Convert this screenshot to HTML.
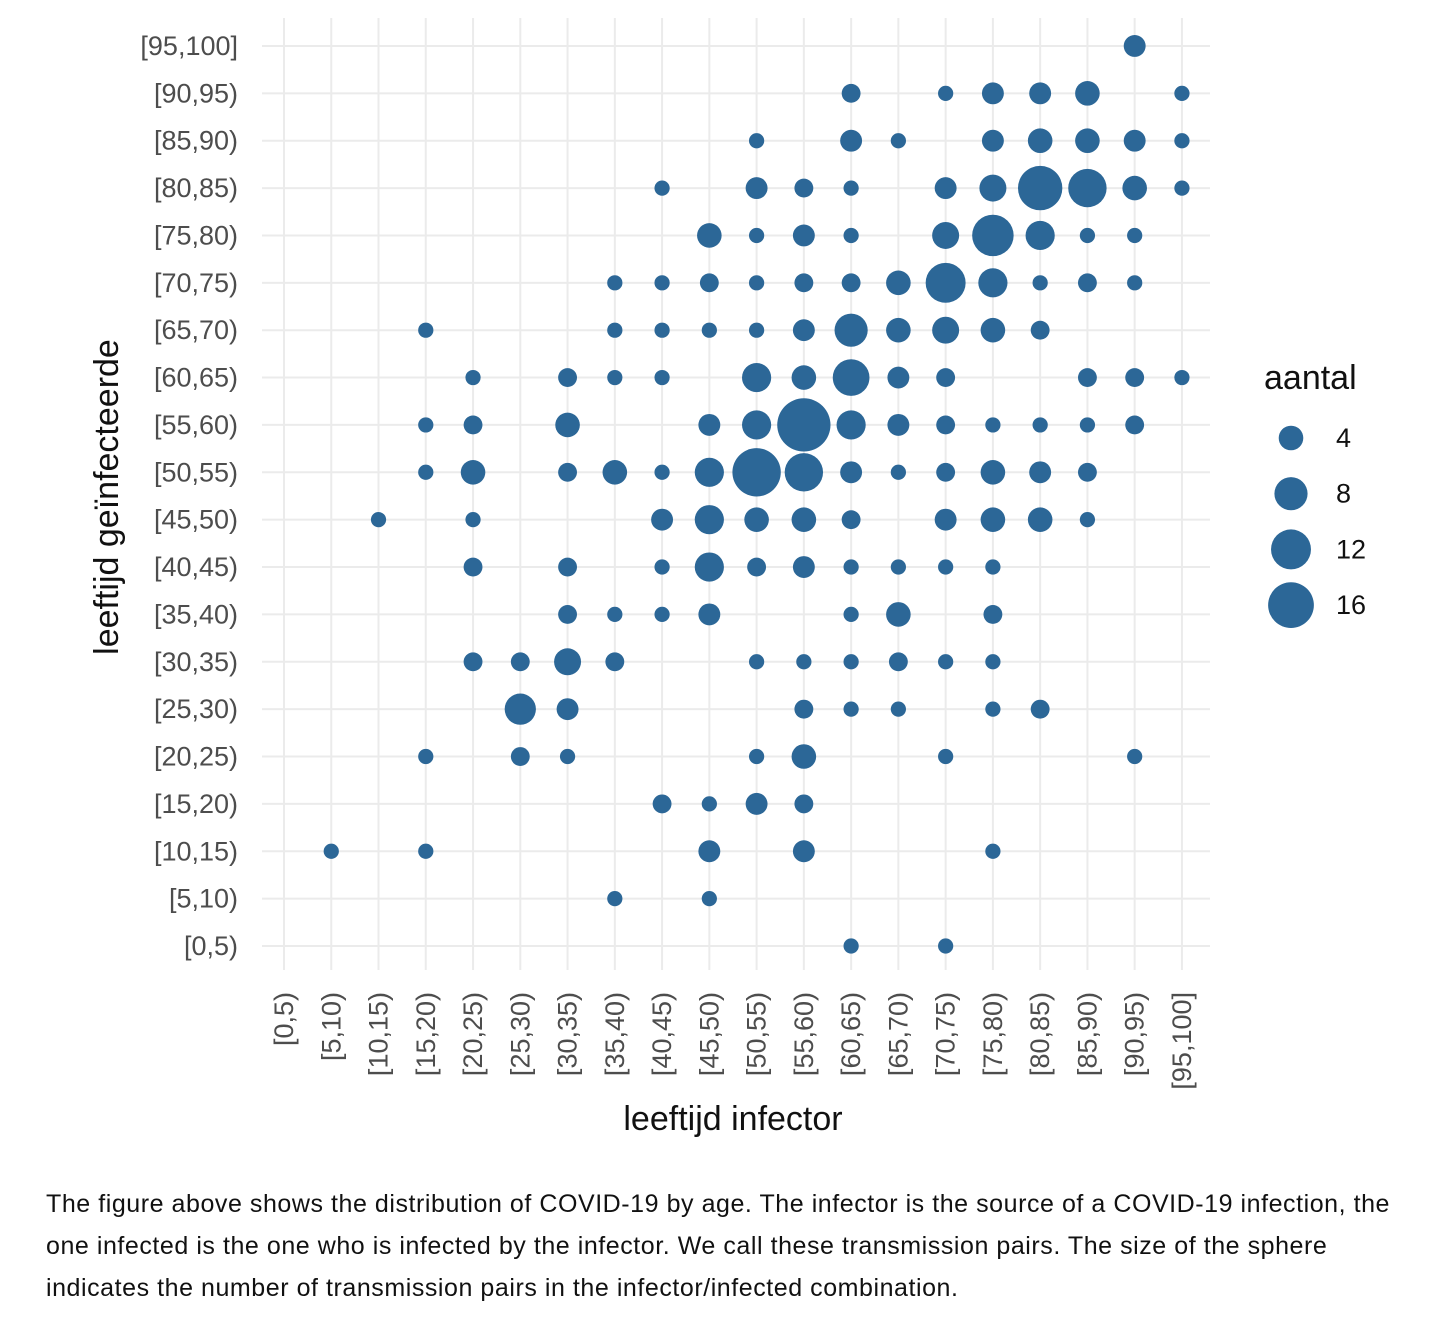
<!DOCTYPE html>
<html><head><meta charset="utf-8"><style>
html,body{margin:0;padding:0;background:#fff;width:1444px;height:1328px;overflow:hidden}
svg{position:absolute;left:0;top:0}
.cap{position:absolute;left:46px;top:1183px;font-family:"Liberation Sans",sans-serif;font-size:25px;letter-spacing:0.55px;line-height:42px;color:#111;white-space:nowrap}
</style></head><body>
<svg id="chart" width="1444" height="1170"></svg>
<div class="cap">The figure above shows the distribution of COVID-19 by age. The infector is the source of a COVID-19 infection, the<br>one infected is the one who is infected by the infector. We call these transmission pairs. The size of the sphere<br>indicates the number of transmission pairs in the infector/infected combination.</div>
<script>
const categories=["[0,5)","[5,10)","[10,15)","[15,20)","[20,25)","[25,30)","[30,35)","[35,40)","[40,45)","[45,50)","[50,55)","[55,60)","[60,65)","[65,70)","[70,75)","[75,80)","[80,85)","[85,90)","[90,95)","[95,100]"];
// points: [infector index, infected index, count]
const points=[
[12,0,1],[14,0,1],
[7,1,1],[9,1,1],
[1,2,1],[3,2,1],[9,2,3],[11,2,3],[15,2,1],
[8,3,2],[9,3,1],[10,3,3],[11,3,2],
[3,4,1],[5,4,2],[6,4,1],[10,4,1],[11,4,4],[14,4,1],[18,4,1],
[5,5,7],[6,5,3],[11,5,2],[12,5,1],[13,5,1],[15,5,1],[16,5,2],
[4,6,2],[5,6,2],[6,6,5],[7,6,2],[10,6,1],[11,6,1],[12,6,1],[13,6,2],[14,6,1],[15,6,1],
[6,7,2],[7,7,1],[8,7,1],[9,7,3],[12,7,1],[13,7,4],[15,7,2],
[4,8,2],[6,8,2],[8,8,1],[9,8,6],[10,8,2],[11,8,3],[12,8,1],[13,8,1],[14,8,1],[15,8,1],
[2,9,1],[4,9,1],[8,9,3],[9,9,6],[10,9,4],[11,9,4],[12,9,2],[14,9,3],[15,9,4],[16,9,4],[17,9,1],
[3,10,1],[4,10,4],[6,10,2],[7,10,4],[8,10,1],[9,10,6],[10,10,18],[11,10,11],[12,10,3],[13,10,1],[14,10,2],[15,10,4],[16,10,3],[17,10,2],
[3,11,1],[4,11,2],[6,11,4],[9,11,3],[10,11,6],[11,11,22],[12,11,6],[13,11,3],[14,11,2],[15,11,1],[16,11,1],[17,11,1],[18,11,2],
[4,12,1],[6,12,2],[7,12,1],[8,12,1],[10,12,6],[11,12,4],[12,12,10],[13,12,3],[14,12,2],[17,12,2],[18,12,2],[19,12,1],
[3,13,1],[7,13,1],[8,13,1],[9,13,1],[10,13,1],[11,13,3],[12,13,8],[13,13,4],[14,13,5],[15,13,4],[16,13,2],
[7,14,1],[8,14,1],[9,14,2],[10,14,1],[11,14,2],[12,14,2],[13,14,4],[14,14,12],[15,14,6],[16,14,1],[17,14,2],[18,14,1],
[9,15,4],[10,15,1],[11,15,3],[12,15,1],[14,15,5],[15,15,13],[16,15,6],[17,15,1],[18,15,1],
[8,16,1],[10,16,3],[11,16,2],[12,16,1],[14,16,3],[15,16,5],[16,16,15],[17,16,11],[18,16,4],[19,16,1],
[10,17,1],[12,17,3],[13,17,1],[15,17,3],[16,17,4],[17,17,4],[18,17,3],[19,17,1],
[12,18,2],[14,18,1],[15,18,3],[16,18,3],[17,18,4],[19,18,1],
[18,19,3]];
const legendValues=[4,8,12,16];
const NS="http://www.w3.org/2000/svg";
const svg=document.getElementById('chart');
const x=i=>284+i*47.26;
const y=j=>946-j*47.37;
const r=v=>Math.sqrt(27+31*v);
function mk(tag,attrs,parent){const e=document.createElementNS(NS,tag);for(const k in attrs)e.setAttribute(k,attrs[k]);(parent||svg).appendChild(e);return e;}
const grid=mk('g',{});


categories.forEach((c,i)=>{
  const l1=mk('line',{x1:x(i),x2:x(i),y1:18,y2:970,stroke:'#ebebeb','stroke-width':2},grid);
  
  
  const l2=mk('line',{x1:262,x2:1210,y1:y(i),y2:y(i),stroke:'#ebebeb','stroke-width':2},grid);
  
  
  const ty=mk('text',{x:238,y:y(i)+9,'text-anchor':'end','font-family':'Liberation Sans, sans-serif','font-size':27,fill:'#4d4d4d'});
  ty.textContent=c;
  
  
  const tx=mk('text',{transform:`translate(${x(i)+9},992) rotate(-90)`,'text-anchor':'end','font-family':'Liberation Sans, sans-serif','font-size':27,fill:'#4d4d4d'});
  tx.textContent=c;
  
  
});
points.forEach(p=>{
  const c=mk('circle',{cx:x(p[0]),cy:y(p[1]),r:r(p[2]),fill:'#2c6797'});
  
  
});
const xt=mk('text',{x:733,y:1130,'text-anchor':'middle','font-family':'Liberation Sans, sans-serif','font-size':34,fill:'#111'});
xt.textContent='leeftijd infector';


const yt=mk('text',{transform:'translate(118,497) rotate(-90)','text-anchor':'middle','font-family':'Liberation Sans, sans-serif','font-size':34,fill:'#111'});
yt.textContent='leeftijd geïnfecteerde';


const lt=mk('text',{x:1264,y:389,'font-family':'Liberation Sans, sans-serif','font-size':34,fill:'#111'});
lt.textContent='aantal';


legendValues.forEach((v,k)=>{
  const cy=438+k*55.7;
  const c=mk('circle',{cx:1291,cy:cy,r:r(v),fill:'#2c6797'});
  
  
  const t=mk('text',{x:1336,y:cy+9,'font-family':'Liberation Sans, sans-serif','font-size':27,fill:'#111'});
  t.textContent=v;
  
  
});
</script>
</body></html>
